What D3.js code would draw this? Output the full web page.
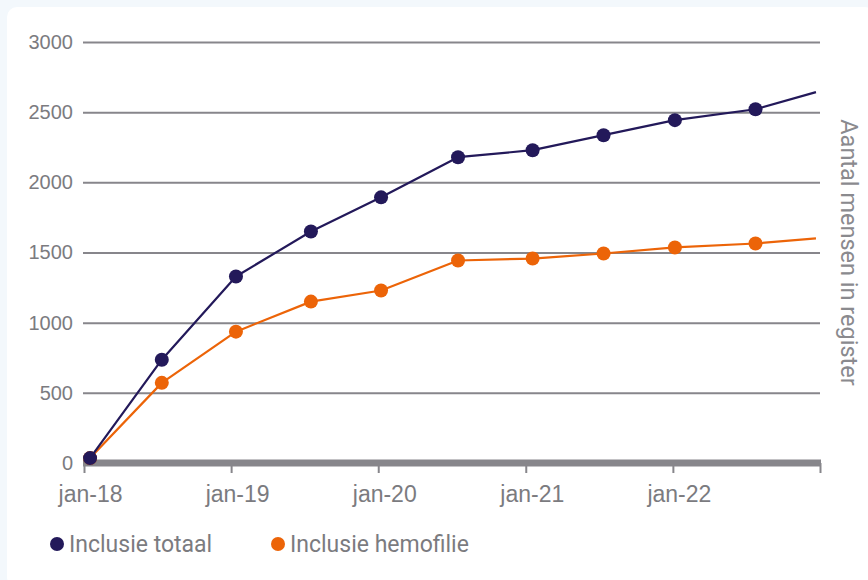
<!DOCTYPE html>
<html>
<head>
<meta charset="utf-8">
<script src="https://cdn.jsdelivr.net/npm/d3@7"></script>
<style>
  html, body { margin: 0; padding: 0; background: #f3f8fc; }
  svg { display: block; font-family: Roboto, "Noto Sans", sans-serif; }
</style>
</head>
<body>
<svg id="chart" width="868" height="580"></svg>
<script>
// data
var dates = ["2018-01-16","2018-07-13","2019-01-13","2019-07-18","2020-01-08",
             "2020-07-17","2021-01-18","2021-07-13","2022-01-06","2022-07-25","2022-12-22"]
  , totaal    = [35, 736, 1329, 1650, 1893, 2179, 2229, 2336, 2443, 2521, 2643]
  , hemofilie = [35, 571, 936, 1150, 1229, 1443, 1457, 1493, 1536, 1564, 1600]
  , markerShown = [1,1,1,1,1,1,1,1,1,1,0]   // last point is only a line end
  , yTicks = [0, 500, 1000, 1500, 2000, 2500, 3000]
  , xTickDates = ["2018-01-01","2019-01-01","2020-01-01","2021-01-01","2022-01-01","2023-01-01"]
  , xTickLabels = ["jan-18","jan-19","jan-20","jan-21","jan-22",""]
  , seriesNames = ["Inclusie totaal","Inclusie hemofilie"]
  , seriesColors = ["#23195a","#ec6408"]
  ;

var parse = d3.timeParse("%Y-%m-%d")
  , svg = d3.select("#chart")
  , margin = {left:84, right:48, top:42, bottom:117}
  , width = 868
  , height = 580
  , gridColor = "#87868b"
  , textColor = "#7b7b7f";

// white card
svg.append("rect")
  .attr("x",7).attr("y",7)
  .attr("width",width).attr("height",height)
  .attr("rx",10)
  .attr("fill","#ffffff");

var x = d3.scaleTime()
  .domain([parse(xTickDates[0]), parse(xTickDates[xTickDates.length-1])])
  .range([margin.left, width-margin.right]);

var y = d3.scaleLinear()
  .domain([0,3000])
  .range([height-margin.bottom, margin.top]);

// horizontal grid + y labels
var yAxis = d3.axisLeft(y)
  .tickValues(yTicks)
  .tickSize(-(x.range()[1]-x.range()[0]))
  .tickPadding(11)
  .tickFormat(d3.format("d"));

var gy = svg.append("g")
  .attr("transform","translate("+margin.left+",0)")
  .call(yAxis);
gy.select(".domain").remove();
gy.selectAll(".tick line")
  .attr("stroke",gridColor)
  .attr("stroke-width",2)
  .attr("x1",-1);
gy.selectAll(".tick text")
  .attr("fill",textColor)
  .style("font-size","20px");
gy.selectAll(".tick").filter(function(d){ return d===0; }).select("line").remove();

// x axis with thick baseline
var xAxis = d3.axisBottom(x)
  .tickValues(xTickDates.map(parse))
  .tickSize(10)
  .tickPadding(13)
  .tickFormat(function(d,i){ return xTickLabels[i]; });

var gx = svg.append("g")
  .attr("transform","translate(0,"+y(0)+")")
  .call(xAxis);
gx.select(".domain").remove();
gx.selectAll(".tick line")
  .attr("stroke",gridColor)
  .attr("stroke-width",2);
gx.selectAll(".tick text")
  .attr("fill",textColor)
  .attr("dx",6)
  .style("font-size","23px");

gx.append("rect")
  .attr("x",x.range()[0]-1)
  .attr("y",-3.5)
  .attr("width",x.range()[1]-x.range()[0]+2)
  .attr("height",7)
  .attr("fill",gridColor);

// y axis title on the right
svg.append("text")
  .attr("transform","translate(841,"+((y(0)+y(3000))/2)+") rotate(90)")
  .attr("text-anchor","middle")
  .attr("fill","#8a8a8e")
  .style("font-size","23.5px")
  .text("Aantal mensen in register");

// series
var series = [totaal, hemofilie];
var line = d3.line()
  .x(function(d,i){ return x(parse(dates[i])); })
  .y(function(d){ return y(d); });

// draw orange first so navy sits on top at the start
[1,0].forEach(function(s){
  var g = svg.append("g").attr("class","series-"+s);
  g.append("path")
    .datum(series[s])
    .attr("fill","none")
    .attr("stroke",seriesColors[s])
    .attr("stroke-width",2.2)
    .attr("stroke-linejoin","round")
    .attr("d",line);
  g.selectAll("circle")
    .data(series[s].filter(function(d,i){ return markerShown[i]; }))
    .enter().append("circle")
    .attr("cx",function(d,i){ return x(parse(dates[i])); })
    .attr("cy",function(d){ return y(d); })
    .attr("r",7)
    .attr("fill",seriesColors[s]);
});

// legend
var legendX = [57, 278];
var legend = svg.append("g").attr("class","legend");
seriesNames.forEach(function(name,i){
  legend.append("circle")
    .attr("cx",legendX[i]).attr("cy",544)
    .attr("r",7)
    .attr("fill",seriesColors[i]);
  legend.append("text")
    .attr("x",legendX[i]+12).attr("y",552)
    .attr("fill",textColor)
    .style("font-size","23px")
    .text(name);
});
</script>
</body>
</html>
